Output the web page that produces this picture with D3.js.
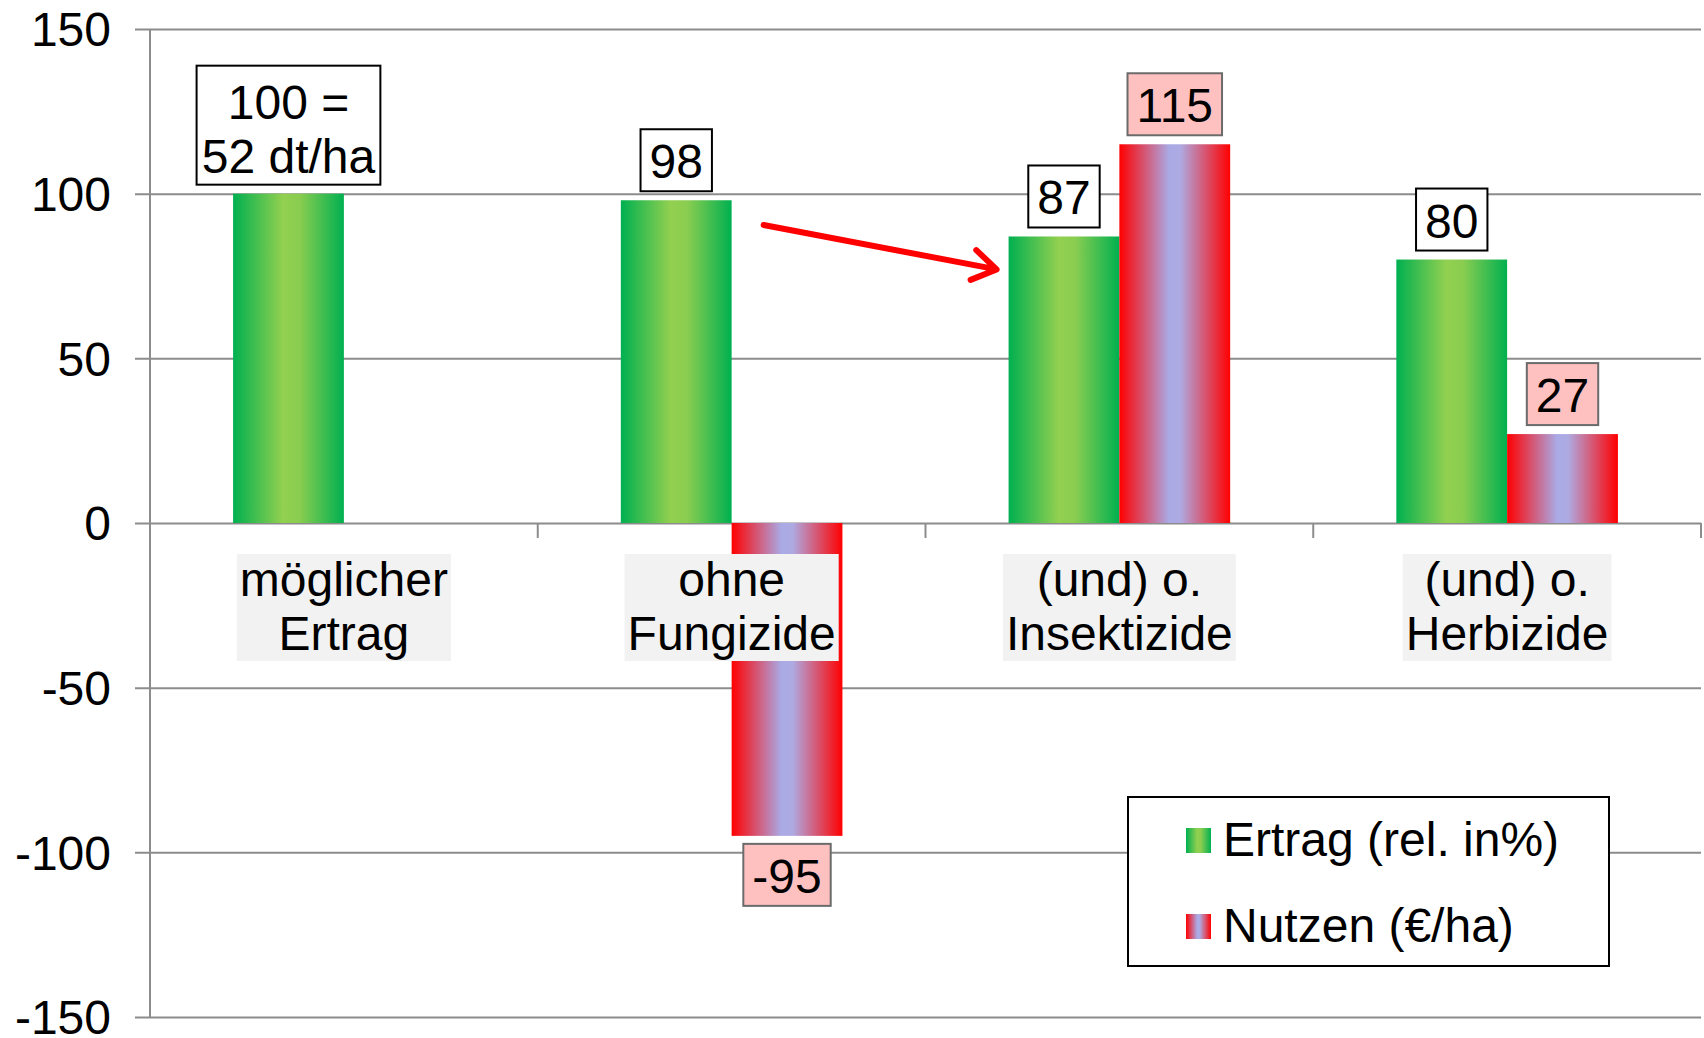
<!DOCTYPE html>
<html>
<head>
<meta charset="utf-8">
<script src="https://cdn.jsdelivr.net/npm/d3@7"></script>
<style>
  html, body { margin: 0; padding: 0; background: #ffffff; }
  svg { display: block; font-family: "Liberation Sans", Arial, sans-serif; }
</style>
</head>
<body>
<svg id="chart" width="1704" height="1038"></svg>
<script>
// ---- data ----
const categories = ["möglicher\nErtrag", "ohne\nFungizide", "(und) o.\nInsektizide", "(und) o.\nHerbizide"];
const seriesNames = ["Ertrag (rel. in%)", "Nutzen (€/ha)"];
const ertrag = [100, 98, 87, 80];
const nutzen = [null, -95, 115, 27];
const ertragLabels = ["100 =\n52 dt/ha", "98", "87", "80"];
const nutzenLabels = [null, "-95", "115", "27"];
const yTicks = [-150, -100, -50, 0, 50, 100, 150];
// arrow annotation: from category 1 (value 90.5) to category 2 (value 77)
const arrowFrom = { cat: 1, value: 90.5 };
const arrowTo = { cat: 2, value: 77 };

(function () {
// ---- layout ----
const svg = d3.select("#chart");
const pLeft = 150, pRight = 1701, pTop = 29, pBottom = 1017;
const FS = 48;

const y = d3.scaleLinear().domain([-150, 150]).range([pBottom, pTop]);
const x0 = d3.scaleBand().domain(categories).range([pLeft, pRight]).paddingInner(0).paddingOuter(0);
const x1 = d3.scaleBand().domain(seriesNames).range([0, x0.bandwidth()]).paddingInner(0).paddingOuter(0.75);
const bw = x1.bandwidth();

// gradients
const defs = svg.append("defs");
const gG = defs.append("linearGradient").attr("id", "gGreen").attr("x1", "0").attr("x2", "1").attr("y1", "0").attr("y2", "0");
gG.append("stop").attr("offset", "0").attr("stop-color", "#00b050");
gG.append("stop").attr("offset", "0.45").attr("stop-color", "#92d050");
gG.append("stop").attr("offset", "0.6").attr("stop-color", "#8acd50");
gG.append("stop").attr("offset", "1").attr("stop-color", "#00b050");
const gR = defs.append("linearGradient").attr("id", "gRed").attr("x1", "0").attr("x2", "1").attr("y1", "0").attr("y2", "0");
gR.append("stop").attr("offset", "0").attr("stop-color", "#ff0000");
gR.append("stop").attr("offset", "0.45").attr("stop-color", "#aaaae6");
gR.append("stop").attr("offset", "0.55").attr("stop-color", "#aeaae2");
gR.append("stop").attr("offset", "1").attr("stop-color", "#ff0000");

const gridColor = "#8c8c8c";

// gridlines + y axis
const yAxis = d3.axisLeft(y).tickValues(yTicks).tickSize(pRight - pLeft + 15).tickPadding(26).tickFormat(d => String(d));
const gy = svg.append("g").attr("transform", `translate(${pRight},0)`).call(yAxis);
gy.attr("font-family", null);
gy.select(".domain").remove();
gy.selectAll(".tick line").attr("stroke", gridColor).attr("stroke-width", 2);
gy.selectAll(".tick text").attr("font-size", FS).attr("fill", "#000").attr("dy", "0.35em");
gy.selectAll(".tick text").attr("x", -(pRight - pLeft) - 15 - 24);

// vertical axis line
svg.append("line").attr("x1", pLeft).attr("x2", pLeft).attr("y1", y(150)).attr("y2", y(-150))
  .attr("stroke", gridColor).attr("stroke-width", 2);

// category tick marks at zero line
const catBounds = categories.map(c => x0(c)).concat([pRight]);
svg.append("g").selectAll("line").data(catBounds.slice(1)).join("line")
  .attr("x1", d => d).attr("x2", d => d).attr("y1", y(0)).attr("y2", y(0) + 15)
  .attr("stroke", gridColor).attr("stroke-width", 2);

// bars
const barsG = svg.append("g");
categories.forEach((c, i) => {
  const gx = x0(c);
  if (ertrag[i] != null) {
    barsG.append("rect").attr("x", gx + x1(seriesNames[0])).attr("width", bw)
      .attr("y", y(Math.max(0, ertrag[i]))).attr("height", Math.abs(y(ertrag[i]) - y(0)))
      .attr("fill", "url(#gGreen)");
  }
  if (nutzen[i] != null) {
    barsG.append("rect").attr("x", gx + x1(seriesNames[1])).attr("width", bw)
      .attr("y", y(Math.max(0, nutzen[i]))).attr("height", Math.abs(y(nutzen[i]) - y(0)))
      .attr("fill", "url(#gRed)");
  }
});

// category labels with light grey background
const lineH = 54;
categories.forEach((c, i) => {
  const cx = x0(c) + x0.bandwidth() / 2;
  const g = svg.append("g");
  const lines = c.split("\n");
  const t = g.append("text").attr("text-anchor", "middle").attr("font-size", FS).attr("fill", "#000");
  lines.forEach((l, k) => {
    t.append("tspan").attr("x", cx).attr("y", 596 + k * lineH).text(l);
  });
  const bb = t.node().getBBox();
  g.insert("rect", "text").attr("x", bb.x - 3).attr("width", bb.width + 6)
    .attr("y", 554).attr("height", 107).attr("fill", "#f2f2f2");
});

// data labels
function drawLabel(cx, anchorY, above, text, fill, stroke) {
  const lines = text.split("\n");
  const g = svg.append("g");
  const t = g.append("text").attr("text-anchor", "middle").attr("font-size", FS).attr("fill", "#000");
  const boxH = lines.length === 1 ? 62 : 119;
  const boxTop = above ? anchorY - 9 - boxH : anchorY + 8;
  lines.forEach((l, k) => {
    const base = lines.length === 1 ? boxTop + 49 : boxTop + 53 + k * 54;
    t.append("tspan").attr("x", cx).attr("y", base).text(l);
  });
  const bb = t.node().getBBox();
  const padX = lines.length === 1 ? 9 : 5;
  g.insert("rect", "text").attr("x", cx - bb.width / 2 - padX).attr("width", bb.width + 2 * padX)
    .attr("y", boxTop).attr("height", boxH).attr("fill", fill).attr("stroke", stroke).attr("stroke-width", 2);
}
categories.forEach((c, i) => {
  const gx = x0(c);
  if (ertrag[i] != null) {
    drawLabel(gx + x1(seriesNames[0]) + bw / 2, y(ertrag[i]), ertrag[i] >= 0, ertragLabels[i], "#ffffff", "#000000");
  }
  if (nutzen[i] != null) {
    const v = nutzen[i];
    drawLabel(gx + x1(seriesNames[1]) + bw / 2, y(v), v >= 0, nutzenLabels[i], "#ffc0c0", "#6b6b6b");
  }
});

// arrow annotation
const ax1 = x0(categories[arrowFrom.cat]) + x0.bandwidth() / 2 + 32;
const ay1 = y(arrowFrom.value);
const ax2 = x0(categories[arrowTo.cat]) + x1(seriesNames[0]) - 12;
const ay2 = y(arrowTo.value);
const ang = Math.atan2(ay2 - ay1, ax2 - ax1);
const wl = 28, wa = Math.PI / 5.5;
const w1 = [ax2 - wl * Math.cos(ang - wa), ay2 - wl * Math.sin(ang - wa)];
const w2 = [ax2 - wl * Math.cos(ang + wa), ay2 - wl * Math.sin(ang + wa)];
svg.append("path")
  .attr("d", `M${ax1},${ay1}L${ax2},${ay2}M${w1[0]},${w1[1]}L${ax2},${ay2}L${w2[0]},${w2[1]}`)
  .attr("fill", "none").attr("stroke", "#ff0000").attr("stroke-width", 6)
  .attr("stroke-linecap", "round").attr("stroke-linejoin", "round");

// legend
const lg = svg.append("g");
lg.append("rect").attr("x", 1128).attr("y", 797).attr("width", 481).attr("height", 169)
  .attr("fill", "#ffffff").attr("stroke", "#000").attr("stroke-width", 2);
const legendFills = ["url(#gGreen)", "url(#gRed)"];
seriesNames.forEach((s, k) => {
  const cy = 840 + k * 86;
  lg.append("rect").attr("x", 1186).attr("y", cy - 12).attr("width", 25).attr("height", 25).attr("fill", legendFills[k]);
  lg.append("text").attr("x", 1223).attr("y", cy + 16).attr("font-size", FS).attr("fill", "#000").text(s);
});
})();
</script>
</body>
</html>
